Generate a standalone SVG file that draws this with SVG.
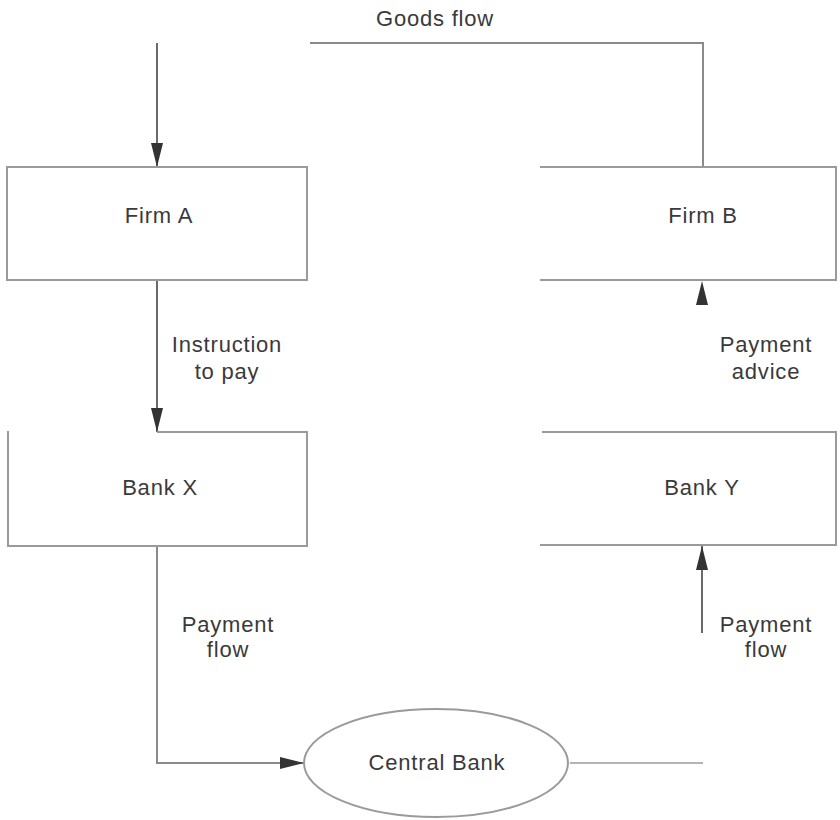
<svg xmlns="http://www.w3.org/2000/svg" width="840" height="820" viewBox="0 0 840 820">
  <defs>
    <style>
      .edge { fill: none; stroke: #9a9a9a; stroke-width: 2; }
      .flow { fill: none; stroke: #8a8a8a; stroke-width: 2; }
      .flow.dark { stroke: #6a6a6a; }
      .flow.light { stroke: #b4b4b4; }
      .label { font-family: "Liberation Sans", Arial, Helvetica, sans-serif; font-size: 22px; fill: #3a3a3a; text-anchor: middle; letter-spacing: 0.8px; }
    </style>
    <marker id="arrow" viewBox="0 0 24 12" refX="24" refY="6" markerWidth="24" markerHeight="12" markerUnits="userSpaceOnUse" orient="auto">
      <path d="M0,0 L24,6 L0,12 z" fill="#333"/>
    </marker>
  </defs>

  <rect width="840" height="820" fill="#ffffff"/>

  <!-- Connectors -->
  <g id="connectors">
    <!-- goods flow: Firm B back round to Firm A -->
    <path class="flow" d="M703,167 V43 H310"/>
    <path class="flow dark" d="M157,43 V167" marker-end="url(#arrow)"/>
    <text class="label" x="435" y="26">Goods flow</text>

    <!-- instruction to pay: Firm A to Bank X -->
    <path class="flow dark" d="M157,280 V432" marker-end="url(#arrow)"/>
    <text class="label" x="227" y="352">Instruction</text>
    <text class="label" x="227" y="379">to pay</text>

    <!-- payment advice: Bank Y to Firm B -->
    <path class="flow light" d="M702,307 V281" stroke-opacity="0" marker-end="url(#arrow)"/>
    <text class="label" x="766" y="352">Payment</text>
    <text class="label" x="766" y="379">advice</text>

    <!-- payment flow: Bank X to Central Bank -->
    <path class="flow" d="M157,546 V763 H304" marker-end="url(#arrow)"/>
    <text class="label" x="228" y="632">Payment</text>
    <text class="label" x="228" y="657">flow</text>

    <!-- payment flow: Central Bank to Bank Y -->
    <path class="flow light" d="M570,763 H703"/>
    <path class="flow dark" d="M702,633 V546" marker-end="url(#arrow)"/>
    <text class="label" x="766" y="632">Payment</text>
    <text class="label" x="766" y="657">flow</text>
  </g>

  <!-- Nodes -->
  <g id="firm-a">
    <path class="edge" d="M7,167 H307 V280 H7 Z"/>
    <text class="label" x="159" y="223">Firm A</text>
  </g>

  <g id="firm-b">
    <path class="edge" d="M540,167 H836 V280 H540"/>
    <text class="label" x="703" y="223">Firm B</text>
  </g>

  <g id="bank-x">
    <path class="edge" d="M157,432 H307 V546 H8 V431"/>
    <text class="label" x="160" y="495">Bank X</text>
  </g>

  <g id="bank-y">
    <path class="edge" d="M542,432 H836 V545 H540"/>
    <text class="label" x="702" y="495">Bank Y</text>
  </g>

  <g id="central-bank">
    <ellipse class="edge" cx="436" cy="763" rx="132" ry="54"/>
    <text class="label" x="437" y="770">Central Bank</text>
  </g>
</svg>
